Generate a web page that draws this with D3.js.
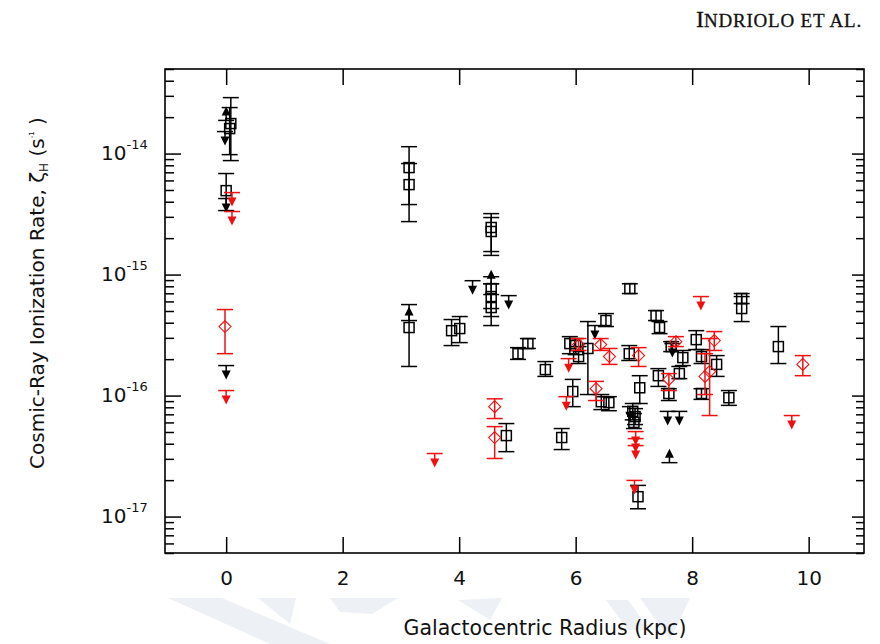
<!DOCTYPE html>
<html><head><meta charset="utf-8">
<script src="https://cdn.jsdelivr.net/npm/d3@7"></script>
<style>body{margin:0;background:#fff} svg{display:block}</style>
</head><body>
<script>
// Galactocentric radius (kpc) and cosmic-ray ionization rate (s^-1)
// black detections: [R, zeta, zetaLow, zetaHigh]
const blackDetections = [
 [0.08, 1.77e-14, 8.75e-15, 2.9e-14],
 [0.06, 1.61e-14, 9.8e-15, 2.4e-14],
 [0.0, 4.94e-15, 3.38e-15, 6.84e-15],
 [3.14, 7.66e-15, 3.79e-15, 1.14e-14],
 [3.14, 5.54e-15, 2.74e-15, 8.27e-15],
 [3.14, 3.65e-16, 1.74e-16, 5.65e-16],
 [4.55, 2.45e-15, 1.55e-15, 3.19e-15],
 [4.55, 2.27e-15, 1.44e-15, 2.96e-15],
 [4.55, 7.66e-16, 5.24e-16, 9.6e-16],
 [4.55, 6.58e-16, 4.5e-16, 8.4e-16],
 [4.55, 5.34e-16, 3.79e-16, 6.84e-16],
 [3.87, 3.44e-16, 2.59e-16, 4.25e-16],
 [4.01, 3.58e-16, 2.74e-16, 4.5e-16],
 [5.01, 2.22e-16, 1.99e-16, 2.49e-16],
 [5.18, 2.69e-16, 2.45e-16, 2.96e-16],
 [5.48, 1.64e-16, 1.44e-16, 1.91e-16],
 [5.95, 1.08e-16, 8.1e-17, 1.36e-16],
 [4.81, 4.67e-17, 3.44e-17, 5.87e-17],
 [5.76, 4.5e-17, 3.58e-17, 5.34e-17],
 [5.9, 2.69e-16, 2.22e-16, 3.07e-16],
 [6.0, 2.59e-16, 2.18e-16, 2.96e-16],
 [6.05, 2.1e-16, 1.84e-16, 2.54e-16],
 [6.21, 2.45e-16, 1.02e-16, 4.09e-16],
 [6.52, 4.17e-16, 3.72e-16, 4.76e-16],
 [6.44, 8.9e-17, 7.66e-17, 1.02e-16],
 [6.57, 8.75e-17, 7.5e-17, 9.8e-17],
 [6.92, 2.22e-16, 1.95e-16, 2.59e-16],
 [6.93, 7.66e-16, 6.97e-16, 8.4e-16],
 [7.38, 4.58e-16, 4.17e-16, 5.04e-16],
 [7.44, 3.65e-16, 3.25e-16, 4.09e-16],
 [8.07, 2.9e-16, 2.4e-16, 3.44e-16],
 [7.1, 1.16e-16, 8.6e-17, 1.46e-16],
 [6.98, 7.4e-17, 6.3e-17, 8.6e-17],
 [7.02, 6.7e-17, 5.76e-17, 7.8e-17],
 [7.0, 6.0e-17, 5.34e-17, 7.1e-17],
 [7.07, 1.46e-17, 1.16e-17, 1.81e-17],
 [7.42, 1.46e-16, 1.19e-16, 1.67e-16],
 [7.6, 1.04e-16, 9.1e-17, 1.14e-16],
 [7.64, 2.54e-16, 2.31e-16, 2.79e-16],
 [7.84, 2.06e-16, 1.77e-16, 2.36e-16],
 [7.78, 1.52e-16, 1.38e-16, 1.74e-16],
 [8.16, 2.1e-16, 1.84e-16, 2.4e-16],
 [8.42, 1.81e-16, 1.44e-16, 2.14e-16],
 [8.16, 1.04e-16, 9.3e-17, 1.14e-16],
 [8.85, 6.34e-16, 5.76e-16, 6.97e-16],
 [8.85, 5.24e-16, 4.09e-16, 6.58e-16],
 [9.48, 2.54e-16, 1.84e-16, 3.72e-16],
 [8.63, 9.6e-17, 8.3e-17, 1.10e-16]
];
// black upper limits: [R, zeta]
const blackUpperLimits = [
 [-0.02, 1.52e-14], [0.0, 4.25e-15], [0.0, 1.77e-16], [4.23, 8.9e-16],
 [4.85, 6.7e-16], [6.33, 3.79e-16], [6.93, 8.1e-17], [7.58, 7.4e-17],
 [7.78, 7.4e-17], [7.66, 2.69e-16]
];
// black lower limits: [R, zeta]
const blackLowerLimits = [
 [0.0, 1.88e-14], [3.14, 4.17e-16], [4.55, 8.4e-16], [7.61, 2.79e-17]
];
// red detections: [R, zeta, zetaLow, zetaHigh]
const redDetections = [
 [-0.02, 3.72e-16, 2.22e-16, 5.14e-16],
 [4.61, 8.1e-17, 6.46e-17, 9.4e-17],
 [4.61, 4.5e-17, 3.02e-17, 5.54e-17],
 [6.35, 1.14e-16, 9.1e-17, 1.31e-16],
 [6.43, 2.64e-16, 2.36e-16, 2.96e-16],
 [6.58, 2.1e-16, 1.81e-16, 2.45e-16],
 [6.05, 2.64e-16, 2.36e-16, 2.96e-16],
 [7.08, 2.14e-16, 1.74e-16, 2.49e-16],
 [7.6, 1.36e-16, 1.10e-16, 1.52e-16],
 [7.72, 2.79e-16, 2.54e-16, 3.07e-16],
 [8.38, 2.85e-16, 2.36e-16, 3.38e-16],
 [8.3, 1.58e-16, 6.84e-17, 2.96e-16],
 [8.22, 1.44e-16, 1.02e-16, 2.22e-16],
 [9.9, 1.81e-16, 1.46e-16, 2.14e-16]
];
// red upper limits: [R, zeta]
const redUpperLimits = [
 [0.1, 4.76e-15], [0.1, 3.32e-15], [0.0, 1.10e-16], [3.58, 3.32e-17],
 [5.88, 2.02e-16], [5.84, 9.8e-17], [7.03, 5.04e-17], [7.03, 4.41e-17],
 [7.03, 3.86e-17], [7.01, 1.99e-17], [8.15, 6.58e-16], [9.71, 6.84e-17]
];
const xTicks = [0, 2, 4, 6, 8, 10];
const yMajorTicks = [1e-17, 1e-16, 1e-15, 1e-14];
const yExponents = ["-17", "-16", "-15", "-14"];
const xDomain = [-1.05, 10.95];
const yDomain = [5e-18, 5e-14];

const W = 880, H = 644;
const L = 165, R = 864, T = 69, B = 553;
const BLACK = "#000", RED = "#f01010";
const FONT = "'DejaVu Sans', Verdana, sans-serif";

const svg = d3.select("body").append("svg").attr("width", W).attr("height", H)
  .style("font-family", FONT);

const x = d3.scaleLinear().domain(xDomain).range([L, R]);
const y = d3.scaleLog().domain(yDomain).range([B, T]);

// faint watermark shapes at the bottom
const wm = svg.append("g").attr("fill", "#edf1f5");
[[ [168,598],[222,598],[330,644],[270,644] ],
 [ [258,598],[296,598],[290,624] ],
 [ [330,598],[398,598],[372,614],[340,612] ],
 [ [458,600],[502,598],[490,620] ],
 [ [606,600],[628,600],[650,630],[628,630] ],
 [ [640,598],[690,598],[670,640] ]].forEach(p =>
  wm.append("polygon").attr("points", p.map(q => q.join(",")).join(" ")));

// header
const hdr = svg.append("text").attr("x", 862).attr("y", 27).attr("text-anchor", "end")
  .style("font-family", "'Liberation Serif', 'DejaVu Serif', serif").attr("fill", "#111")
  .attr("stroke", "#111").attr("stroke-width", 0.3);
hdr.append("tspan").attr("font-size", 24).text("I");
hdr.append("tspan").attr("font-size", 19).attr("letter-spacing", 0.8).text("NDRIOLO ");
hdr.append("tspan").attr("font-size", 19).attr("letter-spacing", 0.8).text("ET AL.");

// axes
const minorTicks = [];
for (let e = -18; e <= -14; e++) for (let m = 2; m <= 9; m++) {
  const v = m * Math.pow(10, e);
  if (v >= yDomain[0] && v <= yDomain[1]) minorTicks.push(v);
}
function styleAxis(g) {
  g.select(".domain").remove();
  g.selectAll(".tick line").attr("stroke", BLACK).attr("stroke-width", 1.5);
}
svg.append("g").attr("transform", `translate(${L},0)`)
  .call(d3.axisLeft(y).tickValues(minorTicks).tickSize(-9).tickFormat(() => "")).call(styleAxis);
svg.append("g").attr("transform", `translate(${R},0)`)
  .call(d3.axisRight(y).tickValues(minorTicks).tickSize(-8).tickFormat(() => "")).call(styleAxis);
const yl = svg.append("g").attr("transform", `translate(${L},0)`)
  .call(d3.axisLeft(y).tickValues(yMajorTicks).tickSize(-16).tickFormat(() => "")).call(styleAxis);
svg.append("g").attr("transform", `translate(${R},0)`)
  .call(d3.axisRight(y).tickValues(yMajorTicks).tickSize(-12).tickFormat(() => "")).call(styleAxis);

yl.selectAll(".tick").each(function(d) {
  const t = d3.select(this).append("text").attr("x", -64).attr("y", 6)
    .attr("text-anchor", "start").attr("fill", "#111").style("font-family", FONT);
  t.append("tspan").attr("font-size", 20).text("10");
  t.append("tspan").attr("font-size", 13).attr("dy", -11).text(yExponents[yMajorTicks.indexOf(d)]);
});

const xb = svg.append("g").attr("transform", `translate(0,${B})`)
  .call(d3.axisBottom(x).tickValues(xTicks).tickSize(-16).tickPadding(18).tickFormat(d3.format("d")))
  .call(styleAxis);
xb.selectAll(".tick text").attr("font-size", 20).attr("fill", "#111").style("font-family", FONT);
svg.append("g").attr("transform", `translate(0,${T})`)
  .call(d3.axisTop(x).tickValues(xTicks).tickSize(-16).tickFormat(() => "")).call(styleAxis);

// frame
svg.append("rect").attr("x", L).attr("y", T).attr("width", R - L).attr("height", B - T)
  .attr("fill", "none").attr("stroke", BLACK).attr("stroke-width", 1.6);

// axis titles
svg.append("text").attr("x", 545).attr("y", 635).attr("text-anchor", "middle")
  .attr("font-size", 20.5).attr("fill", "#111").text("Galactocentric Radius (kpc)");
const yt = svg.append("text").attr("transform", "translate(44,293) rotate(-90)")
  .attr("text-anchor", "middle").attr("font-size", 20).attr("fill", "#111");
yt.append("tspan").text("Cosmic-Ray Ionization Rate, ");
yt.append("tspan").text("ζ");
yt.append("tspan").attr("font-size", 12).attr("dy", 4).text("H");
yt.append("tspan").attr("dy", -4).text(" (s");
yt.append("tspan").attr("font-size", 7).attr("dy", -10).text("-1");
yt.append("tspan").attr("dy", 10).text(" )");

// marks
const CAP = 8;
function errorBars(g, data, color) {
  const s = g.selectAll(null).data(data).enter().append("g")
    .attr("stroke", color).attr("stroke-width", 1.5).attr("fill", "none");
  s.append("line").attr("x1", d => x(d[0])).attr("x2", d => x(d[0]))
    .attr("y1", d => y(d[2])).attr("y2", d => y(d[3]));
  s.append("line").attr("x1", d => x(d[0]) - CAP).attr("x2", d => x(d[0]) + CAP)
    .attr("y1", d => y(d[2])).attr("y2", d => y(d[2]));
  s.append("line").attr("x1", d => x(d[0]) - CAP).attr("x2", d => x(d[0]) + CAP)
    .attr("y1", d => y(d[3])).attr("y2", d => y(d[3]));
  return s;
}
function limits(g, data, color, dir) {
  const s = g.selectAll(null).data(data).enter().append("g");
  s.append("line").attr("stroke", color).attr("stroke-width", 1.5)
    .attr("x1", d => x(d[0]) - CAP).attr("x2", d => x(d[0]) + CAP)
    .attr("y1", d => y(d[1])).attr("y2", d => y(d[1]));
  s.append("line").attr("stroke", color).attr("stroke-width", 1.5)
    .attr("x1", d => x(d[0])).attr("x2", d => x(d[0]))
    .attr("y1", d => y(d[1])).attr("y2", d => y(d[1]) + dir * 7);
  s.append("path").attr("fill", color).attr("d", d => {
    const cx = x(d[0]), cy = y(d[1]);
    return `M${cx - 4.5},${cy + dir * 5}L${cx + 4.5},${cy + dir * 5}L${cx},${cy + dir * 14}Z`;
  });
}

const gB = svg.append("g"), gR = svg.append("g");
const bd = errorBars(gB, blackDetections, BLACK);
bd.append("rect").attr("x", d => x(d[0]) - 5).attr("y", d => y(d[1]) - 5)
  .attr("width", 10).attr("height", 10);
limits(gB, blackUpperLimits, BLACK, 1);
limits(gB, blackLowerLimits, BLACK, -1);

const rd = errorBars(gR, redDetections, RED);
rd.append("path").attr("stroke-width", 1.1).attr("d", d => {
  const cx = x(d[0]), cy = y(d[1]);
  return `M${cx},${cy - 6}L${cx + 6},${cy}L${cx},${cy + 6}L${cx - 6},${cy}Z`;
});
limits(gR, redUpperLimits, RED, 1);
</script>
</body></html>
